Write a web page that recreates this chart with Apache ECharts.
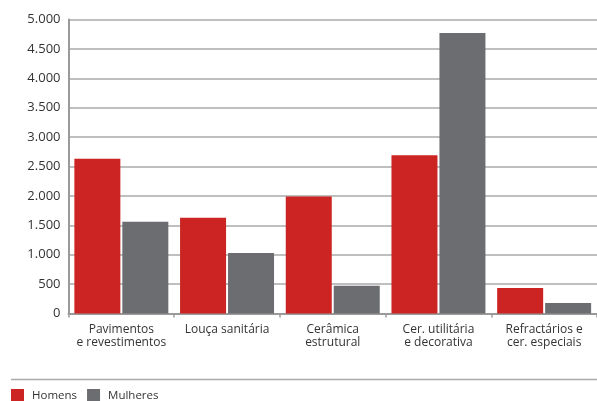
<!DOCTYPE html>
<html>
<head>
<meta charset="utf-8">
<script src="https://cdn.jsdelivr.net/npm/echarts@6/dist/echarts.min.js"></script>
<style>
  html, body { margin: 0; padding: 0; background: #fff; }
  #chart { width: 597px; height: 401px; }
</style>
</head>
<body>
<div id="chart"></div>
<script>
// Categories of ceramic sub-sector
const categories = [
  'Pavimentos\ne revestimentos',
  'Louça sanitária',
  'Cerâmica\nestrutural',
  'Cer. utilitária\ne decorativa',
  'Refractários e\ncer. especiais'
];
// Workers by sex
const homens   = [2630, 1630, 1990, 2690, 435];
const mulheres = [1560, 1030, 470, 4770, 180];
// Value axis ticks
const yMin = 0, yMax = 5000, yStep = 500;

const fontFamily = '"Open Sans", "Noto Sans", sans-serif';
const fmt = v => v >= 1000 ? Math.floor(v / 1000) + '.' + String(v % 1000).padStart(3, '0') : String(v);

const chart = echarts.init(document.getElementById('chart'), null, { renderer: 'canvas' });
chart.setOption({
  animation: false,
  backgroundColor: '#ffffff',
  textStyle: { fontFamily },
  grid: { left: 68.5, top: 19.5, width: 532, height: 294, containLabel: false },
  legend: {
    left: 11, top: 389, padding: 0,
    itemWidth: 13, itemHeight: 13, itemGap: 10,
    icon: 'rect',
    textStyle: { fontSize: 11.5, color: '#333', fontFamily, padding: [0, 0, 0, 3] },
    data: ['Homens', 'Mulheres']
  },
  xAxis: {
    type: 'category',
    data: categories,
    axisLine: { lineStyle: { color: '#9a9a9a', width: 2 } },
    axisTick: { show: true, length: 4, lineStyle: { color: '#9a9a9a', width: 1.5 } },
    axisLabel: { color: '#333', fontSize: 12, lineHeight: 13, margin: 10, fontFamily, interval: 0 }
  },
  yAxis: {
    type: 'value',
    min: yMin, max: yMax, interval: yStep,
    axisLine: { show: true, lineStyle: { color: '#9a9a9a', width: 2 } },
    axisTick: { show: false },
    splitLine: { lineStyle: { color: '#aaaaaa', width: 1.5 } },
    axisLabel: { color: '#333', fontSize: 13, margin: 8, fontFamily, formatter: fmt }
  },
  series: [
    { name: 'Homens', type: 'bar', data: homens, barWidth: 46, barGap: '4.3%',
      itemStyle: { color: '#cb2423' } },
    { name: 'Mulheres', type: 'bar', data: mulheres, barWidth: 46,
      itemStyle: { color: '#6c6d71' } }
  ],
  graphic: [{
    type: 'line',
    shape: { x1: 11, y1: 379.5, x2: 597, y2: 379.5 },
    style: { stroke: '#aaaaaa', lineWidth: 1.5 }
  }]
});
</script>
</body>
</html>
